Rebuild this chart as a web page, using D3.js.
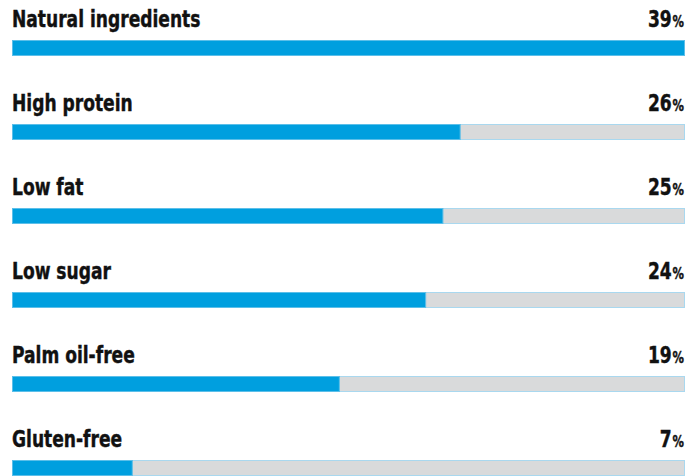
<!DOCTYPE html>
<html>
<head>
<meta charset="utf-8">
<script src="https://cdn.jsdelivr.net/npm/d3@7"></script>
<style>
  html, body { margin: 0; padding: 0; background: #ffffff; }
  svg { display: block; }
  .label { font-family: "DejaVu Sans Condensed", "DejaVu Sans", sans-serif; font-weight: bold; fill: #111111; }
</style>
</head>
<body>
<svg id="chart" width="686" height="476"></svg>
<script>
// Share of respondents naming each claim
const categories = ["Natural ingredients", "High protein", "Low fat", "Low sugar", "Palm oil-free", "Gluten-free"];
const values = [39, 26, 25, 24, 19, 7];
const maxValue = 39;

const width = 686, height = 476;
const margin = { left: 12, right: 1 };
const rowStep = 84;
const barTop = 40, barHeight = 16;
const labelBaseline = 27;
const squeeze = 0.845; // narrow the type horizontally

const svg = d3.select("#chart");

const x = d3.scaleLinear()
  .domain([0, maxValue])
  .range([margin.left, width - margin.right]);

const y = d3.scaleBand()
  .domain(categories)
  .range([0, rowStep * categories.length])
  .paddingInner(0).paddingOuter(0);

const rows = svg.selectAll("g.row")
  .data(categories.map((c, i) => ({ name: c, value: values[i] })))
  .join("g")
  .attr("class", "row")
  .attr("transform", d => `translate(0,${y(d.name)})`);

// grey track spanning the full scale
rows.append("rect")
  .attr("x", x(0) + 0.5)
  .attr("y", barTop + 0.5)
  .attr("width", x(maxValue) - x(0) - 1)
  .attr("height", barHeight - 1)
  .attr("fill", "#d9dadb")
  .attr("stroke", "#a9d8ef")
  .attr("stroke-width", 1);

// value bar
rows.append("rect")
  .attr("x", x(0) + 0.5)
  .attr("y", barTop + 0.5)
  .attr("width", d => x(d.value) - x(0) - 1)
  .attr("height", barHeight - 1)
  .attr("fill", "#009fdf")
  .attr("stroke", "#5cbfe9")
  .attr("stroke-width", 1);

// category name
rows.append("text")
  .attr("class", "label")
  .attr("transform", `translate(${x(0)},${labelBaseline}) scale(${squeeze},1)`)
  .attr("font-size", 22.5)
  .attr("stroke", "#111111")
  .attr("stroke-width", 0.4)
  .text(d => d.name);

// value with smaller percent sign
const val = rows.append("text")
  .attr("class", "label")
  .attr("transform", `translate(${width - 2},${labelBaseline}) scale(${squeeze},1)`)
  .attr("text-anchor", "end")
  .attr("font-size", 22.5)
  .attr("stroke", "#111111")
  .attr("stroke-width", 0.4);
val.append("tspan").text(d => d.value);
val.append("tspan").attr("font-size", 15).attr("dx", 1).text("%");
</script>
</body>
</html>
